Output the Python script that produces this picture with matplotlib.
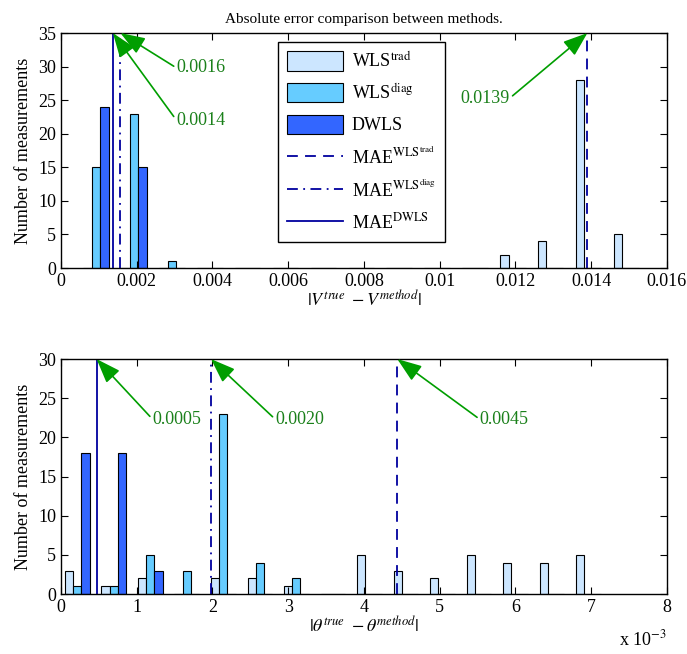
import matplotlib
matplotlib.use("Agg")
import matplotlib.pyplot as plt
import numpy as np

plt.rcParams['font.family'] = ['Liberation Serif', 'DejaVu Serif']
plt.rcParams['mathtext.fontset'] = 'stix'

# ---------------- data ----------------
top_centers = [0.00093, 0.00193, 0.00293, 0.00393, 0.00493, 0.00593, 0.00693, 0.00793,
               0.00893, 0.00993, 0.01093, 0.01193, 0.01293, 0.01393, 0.01493]
top_trad = [0, 0, 0, 0, 0, 0, 0, 0, 0, 0, 0, 2, 4, 28, 5]
top_diag = [15, 23, 1, 0, 0, 0, 0, 0, 0, 0, 0, 0, 0, 0, 0]
top_dwls = [24, 15, 0, 0, 0, 0, 0, 0, 0, 0, 0, 0, 0, 0, 0]
top_mae = {'trad': 0.0139, 'diag': 0.00157, 'dwls': 0.00137}
top_mae_labels = {'trad': '0.0139', 'diag': '0.0016', 'dwls': '0.0014'}

bot_centers = [0.000215, 0.000697, 0.001179, 0.001661, 0.002143, 0.002625, 0.003107, 0.003589,
               0.004071, 0.004553, 0.005035, 0.005517, 0.005999, 0.006481, 0.006963]
bot_trad = [3, 1, 2, 0, 2, 2, 1, 0, 5, 3, 2, 5, 4, 4, 5]
bot_diag = [1, 1, 5, 3, 23, 4, 2, 0, 0, 0, 0, 0, 0, 0, 0]
bot_dwls = [18, 18, 3, 0, 0, 0, 0, 0, 0, 0, 0, 0, 0, 0, 0]
bot_mae = {'trad': 0.00444, 'diag': 0.00198, 'dwls': 0.00047}
bot_mae_labels = {'trad': '0.0045', 'diag': '0.0020', 'dwls': '0.0005'}

top_xticks = [0, 0.002, 0.004, 0.006, 0.008, 0.01, 0.012, 0.014, 0.016]
top_xticklabels = ['0', '0.002', '0.004', '0.006', '0.008', '0.01', '0.012', '0.014', '0.016']
bot_xticks = [0, 0.001, 0.002, 0.003, 0.004, 0.005, 0.006, 0.007, 0.008]
bot_xticklabels = ['0', '1', '2', '3', '4', '5', '6', '7', '8']

# ---------------- style ----------------
c_trad = (0.8, 0.9, 1.0)
c_diag = (0.4, 0.8, 1.0)
c_dwls = (0.2, 0.4, 1.0)
c_line = (0.0, 0.0, 0.62)
c_arrow = (0.0, 0.62, 0.0)
c_text = (0.1, 0.5, 0.1)
FS = 13

fig = plt.figure(figsize=(6.87, 6.54), dpi=100)
ax1 = fig.add_axes([0.0888, 0.5902, 0.882, 0.3593])
ax2 = fig.add_axes([0.0888, 0.0917, 0.882, 0.3593])


def draw(ax, centers, trad, diag, dwls, mae, ymax, xmax, xticks, xticklabels):
    c = np.array(centers)
    step = c[1] - c[0]
    w = 0.225 * step
    bt = ax.bar(c - w, trad, width=w, color=c_trad, edgecolor='black', linewidth=0.8, label=r'WLS$^{\mathrm{trad}}$')
    bd = ax.bar(c, diag, width=w, color=c_diag, edgecolor='black', linewidth=0.8, label=r'WLS$^{\mathrm{diag}}$')
    bw = ax.bar(c + w, dwls, width=w, color=c_dwls, edgecolor='black', linewidth=0.8, label='DWLS')
    l1 = ax.axvline(mae['trad'], color=c_line, linestyle=(0, (6, 4)), linewidth=1.3,
                    label=r'MAE$^{\mathrm{WLS}^{\mathrm{trad}}}$')
    l2 = ax.axvline(mae['diag'], color=c_line, linestyle=(0, (6, 3, 1, 3)), linewidth=1.3,
                    label=r'MAE$^{\mathrm{WLS}^{\mathrm{diag}}}$')
    l3 = ax.axvline(mae['dwls'], color=c_line, linestyle='-', linewidth=1.3,
                    label=r'MAE$^{\mathrm{DWLS}}$')
    ax.set_xlim(0, xmax)
    ax.set_ylim(0, ymax)
    ax.set_xticks(xticks)
    ax.set_xticklabels(xticklabels)
    ax.set_yticks(np.arange(0, ymax + 1, 5))
    ax.tick_params(direction='in', top=True, right=True, labelsize=FS, length=5, width=0.8)
    ax.set_ylabel('Number of measurements', fontsize=FS)
    for s in ax.spines.values():
        s.set_linewidth(1.0)
    return [bt, bd, bw, l1, l2, l3]


def annot(ax, label, x, ymax, tx, ty, ha):
    rel = (0, 0.5) if ha == 'left' else (1, 0.5)
    ax.annotate(label, xy=(x, ymax), xytext=(tx, ty), textcoords='data',
                fontsize=FS, color=c_text, ha=ha, va='center',
                arrowprops=dict(arrowstyle='-|>,head_length=1.5,head_width=0.55',
                                mutation_scale=10, color=c_arrow, lw=1.2,
                                shrinkA=0, shrinkB=0, relpos=rel),
                annotation_clip=False)


handles = draw(ax1, top_centers, top_trad, top_diag, top_dwls, top_mae, 35, 0.016, top_xticks, top_xticklabels)
draw(ax2, bot_centers, bot_trad, bot_diag, bot_dwls, bot_mae, 30, 0.008, bot_xticks, bot_xticklabels)

ax1.set_title('Absolute error comparison between methods.', fontsize=11, pad=7)
ax1.set_xlabel(r'$|V^{true}\ - V^{method}|$', fontsize=FS, labelpad=0)
ax2.set_xlabel(r'$|\theta^{true}\ - \theta^{method}|$', fontsize=FS, labelpad=0)
ax2.text(1.0, -0.15, r'x 10$^{-3}$', transform=ax2.transAxes, ha='right', va='top', fontsize=FS)

annot(ax1, top_mae_labels['diag'], top_mae['diag'], 35, 0.00305, 29.8, 'left')
annot(ax1, top_mae_labels['dwls'], top_mae['dwls'], 35, 0.00305, 22.0, 'left')
annot(ax1, top_mae_labels['trad'], top_mae['trad'], 35, 0.01185, 25.3, 'right')

annot(ax2, bot_mae_labels['dwls'], bot_mae['dwls'], 30, 0.00121, 22.3, 'left')
annot(ax2, bot_mae_labels['diag'], bot_mae['diag'], 30, 0.00283, 22.3, 'left')
annot(ax2, bot_mae_labels['trad'], bot_mae['trad'], 30, 0.00553, 22.3, 'left')

leg = ax1.legend(handles=handles, labels=[h.get_label() for h in handles],
                 loc='upper left', bbox_to_anchor=(0.358, 0.962), fontsize=FS,
                 frameon=True, fancybox=False, edgecolor='black', framealpha=1,
                 handlelength=3.1, handleheight=1.3, labelspacing=0.66,
                 borderpad=0.5, handletextpad=0.5, borderaxespad=0)
leg.get_frame().set_linewidth(1.0)

fig.savefig('out.png', dpi=100)
